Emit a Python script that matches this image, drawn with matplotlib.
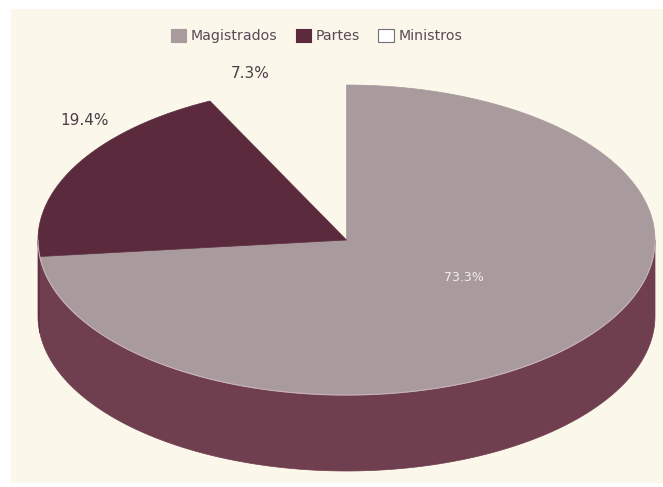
import numpy as np
import matplotlib.pyplot as plt
from matplotlib.patches import Polygon, Rectangle, Patch

# data
labels = ["Magistrados", "Partes", "Ministros"]
values = [73.3, 19.4, 7.3]
pct_labels = ["73.3%", "19.4%", "7.3%"]

# style
top_colors = ["#a99a9d", "#5b2b3d", None]
side_colors = ["#6f3e4f", "#5e2e40", None]
legend_faces = ["#a99a9d", "#5b2b3d", "#ffffff"]
legend_edges = ["#a99a9d", "#5b2b3d", "#707070"]
text_color = "#4d3d48"

# pie geometry (pixels)
cx, cy = 346.5, 240
rx, ry = 308.5, 155
depth = 76
start = 90

# where the labels sit, as factors of the mid-angle radius
label_k = [(0.51, 0.36), (0.97, 1.6), (1.37, 1.1)]


def arc(t0, t1, dz=0, n=200):
    t = np.radians(np.linspace(t0, t1, n))
    return np.column_stack([cx + rx * np.cos(t), cy - ry * np.sin(t) + dz])


fig = plt.figure(figsize=(6.63, 4.87), dpi=100)
fig.patch.set_facecolor("white")
ax = fig.add_axes([0, 0, 1, 1])
ax.set_xlim(0, 663)
ax.set_ylim(487, 0)
ax.axis("off")
ax.add_patch(Rectangle((11, 9), 652, 474, facecolor="#fbf7ea", edgecolor="none"))

fracs = np.array(values) / np.sum(values)
ends = start - np.cumsum(fracs) * 360
starts = np.concatenate([[start], ends[:-1]])

# side walls (front half only)
for s, e, c in zip(starts, ends, side_colors):
    if c is None:
        continue
    for k in (-1, 0, 1):
        lo = max(e, -180 + 360 * k)
        hi = min(s, 360 * k)
        if hi <= lo:
            continue
        pts = np.vstack([arc(hi, lo), arc(lo, hi, depth)])
        ax.add_patch(Polygon(pts, closed=True, facecolor=c, edgecolor=c, lw=0.5))

# tops
for s, e, c in zip(starts, ends, top_colors):
    if c is None:
        continue
    pts = np.vstack([[cx, cy], arc(s, e)])
    ax.add_patch(Polygon(pts, closed=True, facecolor=c, edgecolor=c, lw=0.5))

# light rim between top and side
rim = arc(-180, 0)
ax.plot(rim[:, 0], rim[:, 1], color="#c9b3b9", lw=0.8)

# percentage labels
for i, (s, e) in enumerate(zip(starts, ends)):
    mid = np.radians((s + e) / 2)
    kx, ky = label_k[i]
    x = cx + rx * np.cos(mid) * kx
    y = cy - ry * np.sin(mid) * ky
    if i == 0:
        ax.text(x, y, pct_labels[i], ha="center", va="center", fontsize=9, color="#f3ecee")
    else:
        ax.text(x, y, pct_labels[i], ha="center", va="center", fontsize=11, color=text_color)

handles = [Patch(facecolor=f, edgecolor=ec, lw=0.8) for f, ec in zip(legend_faces, legend_edges)]
fig.legend(handles, labels, loc="center", bbox_to_anchor=(316.5 / 663, 1 - 36 / 487), ncol=3,
           frameon=False, fontsize=10.2, handlelength=1.1, handleheight=1.1,
           handletextpad=0.3, columnspacing=1.3, labelcolor="#5a4a56")

fig.savefig("out.png", dpi=100, facecolor=fig.get_facecolor())
